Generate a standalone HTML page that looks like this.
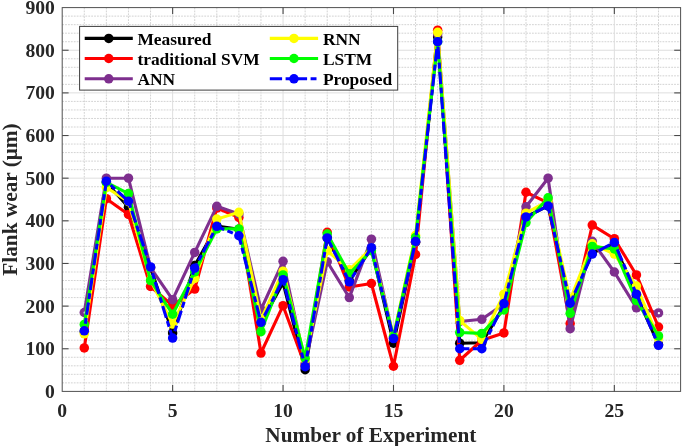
<!DOCTYPE html>
<html><head><meta charset="utf-8"><title>Flank wear</title>
<style>
html,body{margin:0;padding:0;background:#fff;}
body{width:685px;height:446px;overflow:hidden;font-family:"Liberation Serif",serif;}
svg{display:block;will-change:transform;}
text{font-family:"Liberation Serif",serif;font-weight:bold;fill:#262626;}
</style></head><body>
<svg width="685" height="446" viewBox="0 0 685 446">
<rect x="0" y="0" width="685" height="446" fill="#ffffff"/>
<g stroke="#c8c8c8" stroke-width="0.8" stroke-dasharray="1.8 1.1" fill="none">
<line x1="84.29" y1="7.60" x2="84.29" y2="391.40"/>
<line x1="106.37" y1="7.60" x2="106.37" y2="391.40"/>
<line x1="128.46" y1="7.60" x2="128.46" y2="391.40"/>
<line x1="150.54" y1="7.60" x2="150.54" y2="391.40"/>
<line x1="194.71" y1="7.60" x2="194.71" y2="391.40"/>
<line x1="216.80" y1="7.60" x2="216.80" y2="391.40"/>
<line x1="238.89" y1="7.60" x2="238.89" y2="391.40"/>
<line x1="260.97" y1="7.60" x2="260.97" y2="391.40"/>
<line x1="305.14" y1="7.60" x2="305.14" y2="391.40"/>
<line x1="327.23" y1="7.60" x2="327.23" y2="391.40"/>
<line x1="349.31" y1="7.60" x2="349.31" y2="391.40"/>
<line x1="371.40" y1="7.60" x2="371.40" y2="391.40"/>
<line x1="415.57" y1="7.60" x2="415.57" y2="391.40"/>
<line x1="437.66" y1="7.60" x2="437.66" y2="391.40"/>
<line x1="459.74" y1="7.60" x2="459.74" y2="391.40"/>
<line x1="481.83" y1="7.60" x2="481.83" y2="391.40"/>
<line x1="526.00" y1="7.60" x2="526.00" y2="391.40"/>
<line x1="548.09" y1="7.60" x2="548.09" y2="391.40"/>
<line x1="570.17" y1="7.60" x2="570.17" y2="391.40"/>
<line x1="592.26" y1="7.60" x2="592.26" y2="391.40"/>
<line x1="636.43" y1="7.60" x2="636.43" y2="391.40"/>
<line x1="658.51" y1="7.60" x2="658.51" y2="391.40"/>
<line x1="62.20" y1="382.87" x2="680.60" y2="382.87"/>
<line x1="62.20" y1="374.34" x2="680.60" y2="374.34"/>
<line x1="62.20" y1="365.81" x2="680.60" y2="365.81"/>
<line x1="62.20" y1="357.28" x2="680.60" y2="357.28"/>
<line x1="62.20" y1="340.23" x2="680.60" y2="340.23"/>
<line x1="62.20" y1="331.70" x2="680.60" y2="331.70"/>
<line x1="62.20" y1="323.17" x2="680.60" y2="323.17"/>
<line x1="62.20" y1="314.64" x2="680.60" y2="314.64"/>
<line x1="62.20" y1="297.58" x2="680.60" y2="297.58"/>
<line x1="62.20" y1="289.05" x2="680.60" y2="289.05"/>
<line x1="62.20" y1="280.52" x2="680.60" y2="280.52"/>
<line x1="62.20" y1="272.00" x2="680.60" y2="272.00"/>
<line x1="62.20" y1="254.94" x2="680.60" y2="254.94"/>
<line x1="62.20" y1="246.41" x2="680.60" y2="246.41"/>
<line x1="62.20" y1="237.88" x2="680.60" y2="237.88"/>
<line x1="62.20" y1="229.35" x2="680.60" y2="229.35"/>
<line x1="62.20" y1="212.29" x2="680.60" y2="212.29"/>
<line x1="62.20" y1="203.76" x2="680.60" y2="203.76"/>
<line x1="62.20" y1="195.24" x2="680.60" y2="195.24"/>
<line x1="62.20" y1="186.71" x2="680.60" y2="186.71"/>
<line x1="62.20" y1="169.65" x2="680.60" y2="169.65"/>
<line x1="62.20" y1="161.12" x2="680.60" y2="161.12"/>
<line x1="62.20" y1="152.59" x2="680.60" y2="152.59"/>
<line x1="62.20" y1="144.06" x2="680.60" y2="144.06"/>
<line x1="62.20" y1="127.00" x2="680.60" y2="127.00"/>
<line x1="62.20" y1="118.48" x2="680.60" y2="118.48"/>
<line x1="62.20" y1="109.95" x2="680.60" y2="109.95"/>
<line x1="62.20" y1="101.42" x2="680.60" y2="101.42"/>
<line x1="62.20" y1="84.36" x2="680.60" y2="84.36"/>
<line x1="62.20" y1="75.83" x2="680.60" y2="75.83"/>
<line x1="62.20" y1="67.30" x2="680.60" y2="67.30"/>
<line x1="62.20" y1="58.77" x2="680.60" y2="58.77"/>
<line x1="62.20" y1="41.72" x2="680.60" y2="41.72"/>
<line x1="62.20" y1="33.19" x2="680.60" y2="33.19"/>
<line x1="62.20" y1="24.66" x2="680.60" y2="24.66"/>
<line x1="62.20" y1="16.13" x2="680.60" y2="16.13"/>
</g>
<g stroke="#dedede" stroke-width="1" fill="none">
<line x1="172.63" y1="7.60" x2="172.63" y2="391.40"/>
<line x1="283.06" y1="7.60" x2="283.06" y2="391.40"/>
<line x1="393.49" y1="7.60" x2="393.49" y2="391.40"/>
<line x1="503.91" y1="7.60" x2="503.91" y2="391.40"/>
<line x1="614.34" y1="7.60" x2="614.34" y2="391.40"/>
<line x1="62.20" y1="348.76" x2="680.60" y2="348.76"/>
<line x1="62.20" y1="306.11" x2="680.60" y2="306.11"/>
<line x1="62.20" y1="263.47" x2="680.60" y2="263.47"/>
<line x1="62.20" y1="220.82" x2="680.60" y2="220.82"/>
<line x1="62.20" y1="178.18" x2="680.60" y2="178.18"/>
<line x1="62.20" y1="135.53" x2="680.60" y2="135.53"/>
<line x1="62.20" y1="92.89" x2="680.60" y2="92.89"/>
<line x1="62.20" y1="50.24" x2="680.60" y2="50.24"/>
</g>
<polyline points="84.29,331.70 106.37,182.44 128.46,207.18 150.54,267.73 172.63,332.98 194.71,265.60 216.80,225.94 238.89,229.35 260.97,323.17 283.06,282.66 305.14,369.65 327.23,237.88 349.31,280.52 371.40,248.54 393.49,343.21 415.57,242.14 437.66,37.02 459.74,343.21 481.83,342.79 503.91,306.11 526.00,216.98 548.09,205.90 570.17,303.98 592.26,252.81 614.34,244.28 636.43,295.45 658.51,344.49" fill="none" stroke="#000000" stroke-width="3.1" stroke-linejoin="round"/>
<g fill="#000000"><circle cx="84.29" cy="331.70" r="4.75"/><circle cx="106.37" cy="182.44" r="4.75"/><circle cx="128.46" cy="207.18" r="4.75"/><circle cx="150.54" cy="267.73" r="4.75"/><circle cx="172.63" cy="332.98" r="4.75"/><circle cx="194.71" cy="265.60" r="4.75"/><circle cx="216.80" cy="225.94" r="4.75"/><circle cx="238.89" cy="229.35" r="4.75"/><circle cx="260.97" cy="323.17" r="4.75"/><circle cx="283.06" cy="282.66" r="4.75"/><circle cx="305.14" cy="369.65" r="4.75"/><circle cx="327.23" cy="237.88" r="4.75"/><circle cx="349.31" cy="280.52" r="4.75"/><circle cx="371.40" cy="248.54" r="4.75"/><circle cx="393.49" cy="343.21" r="4.75"/><circle cx="415.57" cy="242.14" r="4.75"/><circle cx="437.66" cy="37.02" r="4.75"/><circle cx="459.74" cy="343.21" r="4.75"/><circle cx="481.83" cy="342.79" r="4.75"/><circle cx="503.91" cy="306.11" r="4.75"/><circle cx="526.00" cy="216.98" r="4.75"/><circle cx="548.09" cy="205.90" r="4.75"/><circle cx="570.17" cy="303.98" r="4.75"/><circle cx="592.26" cy="252.81" r="4.75"/><circle cx="614.34" cy="244.28" r="4.75"/><circle cx="636.43" cy="295.45" r="4.75"/><circle cx="658.51" cy="344.49" r="4.75"/></g>
<line x1="636.43" y1="307.82" x2="658.51" y2="312.93" stroke="#7e2f8e" stroke-width="3.1"/>
<polyline points="84.29,347.90 106.37,198.65 128.46,214.43 150.54,286.49 172.63,305.68 194.71,289.05 216.80,208.03 238.89,217.41 260.97,353.02 283.06,305.68 305.14,365.81 327.23,232.34 349.31,286.92 371.40,283.51 393.49,366.24 415.57,254.51 437.66,30.20 459.74,360.27 481.83,340.23 503.91,332.98 526.00,192.25 548.09,202.91 570.17,323.60 592.26,225.09 614.34,238.73 636.43,274.98 658.51,327.01" fill="none" stroke="#ff0000" stroke-width="3.1" stroke-linejoin="round"/>
<g fill="#ff0000"><circle cx="84.29" cy="347.90" r="4.75"/><circle cx="106.37" cy="198.65" r="4.75"/><circle cx="128.46" cy="214.43" r="4.75"/><circle cx="150.54" cy="286.49" r="4.75"/><circle cx="172.63" cy="305.68" r="4.75"/><circle cx="194.71" cy="289.05" r="4.75"/><circle cx="216.80" cy="208.03" r="4.75"/><circle cx="238.89" cy="217.41" r="4.75"/><circle cx="260.97" cy="353.02" r="4.75"/><circle cx="283.06" cy="305.68" r="4.75"/><circle cx="305.14" cy="365.81" r="4.75"/><circle cx="327.23" cy="232.34" r="4.75"/><circle cx="349.31" cy="286.92" r="4.75"/><circle cx="371.40" cy="283.51" r="4.75"/><circle cx="393.49" cy="366.24" r="4.75"/><circle cx="415.57" cy="254.51" r="4.75"/><circle cx="437.66" cy="30.20" r="4.75"/><circle cx="459.74" cy="360.27" r="4.75"/><circle cx="481.83" cy="340.23" r="4.75"/><circle cx="503.91" cy="332.98" r="4.75"/><circle cx="526.00" cy="192.25" r="4.75"/><circle cx="548.09" cy="202.91" r="4.75"/><circle cx="570.17" cy="323.60" r="4.75"/><circle cx="592.26" cy="225.09" r="4.75"/><circle cx="614.34" cy="238.73" r="4.75"/><circle cx="636.43" cy="274.98" r="4.75"/><circle cx="658.51" cy="327.01" r="4.75"/></g>
<polyline points="84.29,312.51 106.37,178.18 128.46,178.18 150.54,267.73 172.63,299.71 194.71,252.38 216.80,206.32 238.89,214.00 260.97,309.52 283.06,261.33 305.14,363.68 327.23,261.76 349.31,297.58 371.40,239.16 393.49,338.09 415.57,242.14 437.66,34.04 459.74,321.46 481.83,319.33 503.91,303.98 526.00,206.75 548.09,178.18 570.17,328.71 592.26,241.29 614.34,272.00 636.43,307.82" fill="none" stroke="#7e2f8e" stroke-width="3.1" stroke-linejoin="round"/>
<g fill="#7e2f8e"><circle cx="84.29" cy="312.51" r="4.75"/><circle cx="106.37" cy="178.18" r="4.75"/><circle cx="128.46" cy="178.18" r="4.75"/><circle cx="150.54" cy="267.73" r="4.75"/><circle cx="172.63" cy="299.71" r="4.75"/><circle cx="194.71" cy="252.38" r="4.75"/><circle cx="216.80" cy="206.32" r="4.75"/><circle cx="238.89" cy="214.00" r="4.75"/><circle cx="260.97" cy="309.52" r="4.75"/><circle cx="283.06" cy="261.33" r="4.75"/><circle cx="305.14" cy="363.68" r="4.75"/><circle cx="327.23" cy="261.76" r="4.75"/><circle cx="349.31" cy="297.58" r="4.75"/><circle cx="371.40" cy="239.16" r="4.75"/><circle cx="393.49" cy="338.09" r="4.75"/><circle cx="415.57" cy="242.14" r="4.75"/><circle cx="437.66" cy="34.04" r="4.75"/><circle cx="459.74" cy="321.46" r="4.75"/><circle cx="481.83" cy="319.33" r="4.75"/><circle cx="503.91" cy="303.98" r="4.75"/><circle cx="526.00" cy="206.75" r="4.75"/><circle cx="548.09" cy="178.18" r="4.75"/><circle cx="570.17" cy="328.71" r="4.75"/><circle cx="592.26" cy="241.29" r="4.75"/><circle cx="614.34" cy="272.00" r="4.75"/><circle cx="636.43" cy="307.82" r="4.75"/><circle cx="658.51" cy="312.93" r="4.75"/></g>
<circle cx="84.69" cy="312.71" r="1.15" fill="#ffffff"/><circle cx="658.91" cy="313.13" r="1.15" fill="#ffffff"/><polyline points="84.29,333.83 106.37,187.56 128.46,201.63 150.54,280.10 172.63,324.02 194.71,278.39 216.80,219.12 238.89,212.29 260.97,319.76 283.06,271.14 305.14,359.42 327.23,250.67 349.31,269.86 371.40,248.11 393.49,335.96 415.57,235.32 437.66,32.33 459.74,320.61 481.83,339.37 503.91,294.17 526.00,213.15 548.09,200.78 570.17,299.71 592.26,243.85 614.34,254.08 636.43,286.07 658.51,338.09" fill="none" stroke="#ffff00" stroke-width="3.1" stroke-linejoin="round"/>
<g fill="#ffff00"><circle cx="84.29" cy="333.83" r="4.75"/><circle cx="106.37" cy="187.56" r="4.75"/><circle cx="128.46" cy="201.63" r="4.75"/><circle cx="150.54" cy="280.10" r="4.75"/><circle cx="172.63" cy="324.02" r="4.75"/><circle cx="194.71" cy="278.39" r="4.75"/><circle cx="216.80" cy="219.12" r="4.75"/><circle cx="238.89" cy="212.29" r="4.75"/><circle cx="260.97" cy="319.76" r="4.75"/><circle cx="283.06" cy="271.14" r="4.75"/><circle cx="305.14" cy="359.42" r="4.75"/><circle cx="327.23" cy="250.67" r="4.75"/><circle cx="349.31" cy="269.86" r="4.75"/><circle cx="371.40" cy="248.11" r="4.75"/><circle cx="393.49" cy="335.96" r="4.75"/><circle cx="415.57" cy="235.32" r="4.75"/><circle cx="437.66" cy="32.33" r="4.75"/><circle cx="459.74" cy="320.61" r="4.75"/><circle cx="481.83" cy="339.37" r="4.75"/><circle cx="503.91" cy="294.17" r="4.75"/><circle cx="526.00" cy="213.15" r="4.75"/><circle cx="548.09" cy="200.78" r="4.75"/><circle cx="570.17" cy="299.71" r="4.75"/><circle cx="592.26" cy="243.85" r="4.75"/><circle cx="614.34" cy="254.08" r="4.75"/><circle cx="636.43" cy="286.07" r="4.75"/><circle cx="658.51" cy="338.09" r="4.75"/></g>
<polyline points="84.29,324.45 106.37,182.44 128.46,193.53 150.54,280.52 172.63,314.21 194.71,272.00 216.80,228.92 238.89,228.92 260.97,331.70 283.06,274.98 305.14,358.14 327.23,234.04 349.31,273.70 371.40,250.67 393.49,336.82 415.57,237.45 437.66,41.72 459.74,332.55 481.83,333.40 503.91,309.95 526.00,222.53 548.09,197.79 570.17,313.36 592.26,246.41 614.34,248.97 636.43,300.57 658.51,335.96" fill="none" stroke="#00ff00" stroke-width="3.1" stroke-linejoin="round"/>
<g fill="#00ff00"><circle cx="84.29" cy="324.45" r="4.75"/><circle cx="106.37" cy="182.44" r="4.75"/><circle cx="128.46" cy="193.53" r="4.75"/><circle cx="150.54" cy="280.52" r="4.75"/><circle cx="172.63" cy="314.21" r="4.75"/><circle cx="194.71" cy="272.00" r="4.75"/><circle cx="216.80" cy="228.92" r="4.75"/><circle cx="238.89" cy="228.92" r="4.75"/><circle cx="260.97" cy="331.70" r="4.75"/><circle cx="283.06" cy="274.98" r="4.75"/><circle cx="305.14" cy="358.14" r="4.75"/><circle cx="327.23" cy="234.04" r="4.75"/><circle cx="349.31" cy="273.70" r="4.75"/><circle cx="371.40" cy="250.67" r="4.75"/><circle cx="393.49" cy="336.82" r="4.75"/><circle cx="415.57" cy="237.45" r="4.75"/><circle cx="437.66" cy="41.72" r="4.75"/><circle cx="459.74" cy="332.55" r="4.75"/><circle cx="481.83" cy="333.40" r="4.75"/><circle cx="503.91" cy="309.95" r="4.75"/><circle cx="526.00" cy="222.53" r="4.75"/><circle cx="548.09" cy="197.79" r="4.75"/><circle cx="570.17" cy="313.36" r="4.75"/><circle cx="592.26" cy="246.41" r="4.75"/><circle cx="614.34" cy="248.97" r="4.75"/><circle cx="636.43" cy="300.57" r="4.75"/><circle cx="658.51" cy="335.96" r="4.75"/></g>
<polyline points="84.29,330.84 106.37,181.16 128.46,201.21 150.54,266.88 172.63,338.09 194.71,268.16 216.80,226.37 238.89,235.75 260.97,322.32 283.06,279.67 305.14,366.67 327.23,237.88 349.31,281.80 371.40,247.69 393.49,338.52 415.57,241.29 437.66,41.72 459.74,348.76 481.83,348.76 503.91,303.55 526.00,216.98 548.09,205.90 570.17,303.13 592.26,254.08 614.34,242.57 636.43,294.17 658.51,345.34" fill="none" stroke="#0000ff" stroke-width="3.1" stroke-linejoin="round" stroke-dasharray="12.3 3.5 5.9 3.3" stroke-dashoffset="8.67"/>
<g fill="#0000ff"><circle cx="84.29" cy="330.84" r="4.75"/><circle cx="106.37" cy="181.16" r="4.75"/><circle cx="128.46" cy="201.21" r="4.75"/><circle cx="150.54" cy="266.88" r="4.75"/><circle cx="172.63" cy="338.09" r="4.75"/><circle cx="194.71" cy="268.16" r="4.75"/><circle cx="216.80" cy="226.37" r="4.75"/><circle cx="238.89" cy="235.75" r="4.75"/><circle cx="260.97" cy="322.32" r="4.75"/><circle cx="283.06" cy="279.67" r="4.75"/><circle cx="305.14" cy="366.67" r="4.75"/><circle cx="327.23" cy="237.88" r="4.75"/><circle cx="349.31" cy="281.80" r="4.75"/><circle cx="371.40" cy="247.69" r="4.75"/><circle cx="393.49" cy="338.52" r="4.75"/><circle cx="415.57" cy="241.29" r="4.75"/><circle cx="437.66" cy="41.72" r="4.75"/><circle cx="459.74" cy="348.76" r="4.75"/><circle cx="481.83" cy="348.76" r="4.75"/><circle cx="503.91" cy="303.55" r="4.75"/><circle cx="526.00" cy="216.98" r="4.75"/><circle cx="548.09" cy="205.90" r="4.75"/><circle cx="570.17" cy="303.13" r="4.75"/><circle cx="592.26" cy="254.08" r="4.75"/><circle cx="614.34" cy="242.57" r="4.75"/><circle cx="636.43" cy="294.17" r="4.75"/><circle cx="658.51" cy="345.34" r="4.75"/></g>
<rect x="62.20" y="7.60" width="618.40" height="383.80" fill="none" stroke="#505050" stroke-width="1.0"/>
<g stroke="#4a4a4a" stroke-width="1.1">
<line x1="172.63" y1="391.40" x2="172.63" y2="385.00"/><line x1="172.63" y1="7.60" x2="172.63" y2="14.00"/>
<line x1="283.06" y1="391.40" x2="283.06" y2="385.00"/><line x1="283.06" y1="7.60" x2="283.06" y2="14.00"/>
<line x1="393.49" y1="391.40" x2="393.49" y2="385.00"/><line x1="393.49" y1="7.60" x2="393.49" y2="14.00"/>
<line x1="503.91" y1="391.40" x2="503.91" y2="385.00"/><line x1="503.91" y1="7.60" x2="503.91" y2="14.00"/>
<line x1="614.34" y1="391.40" x2="614.34" y2="385.00"/><line x1="614.34" y1="7.60" x2="614.34" y2="14.00"/>
<line x1="62.20" y1="348.76" x2="68.60" y2="348.76"/><line x1="680.60" y1="348.76" x2="674.20" y2="348.76"/>
<line x1="62.20" y1="306.11" x2="68.60" y2="306.11"/><line x1="680.60" y1="306.11" x2="674.20" y2="306.11"/>
<line x1="62.20" y1="263.47" x2="68.60" y2="263.47"/><line x1="680.60" y1="263.47" x2="674.20" y2="263.47"/>
<line x1="62.20" y1="220.82" x2="68.60" y2="220.82"/><line x1="680.60" y1="220.82" x2="674.20" y2="220.82"/>
<line x1="62.20" y1="178.18" x2="68.60" y2="178.18"/><line x1="680.60" y1="178.18" x2="674.20" y2="178.18"/>
<line x1="62.20" y1="135.53" x2="68.60" y2="135.53"/><line x1="680.60" y1="135.53" x2="674.20" y2="135.53"/>
<line x1="62.20" y1="92.89" x2="68.60" y2="92.89"/><line x1="680.60" y1="92.89" x2="674.20" y2="92.89"/>
<line x1="62.20" y1="50.24" x2="68.60" y2="50.24"/><line x1="680.60" y1="50.24" x2="674.20" y2="50.24"/>
</g>
<g font-size="19.6" text-anchor="end">
<text x="54.90" y="398.00">0</text>
<text x="54.90" y="355.36">100</text>
<text x="54.90" y="312.71">200</text>
<text x="54.90" y="270.07">300</text>
<text x="54.90" y="227.42">400</text>
<text x="54.90" y="184.78">500</text>
<text x="54.90" y="142.13">600</text>
<text x="54.90" y="99.49">700</text>
<text x="54.90" y="56.84">800</text>
<text x="54.90" y="14.20">900</text>
</g>
<g font-size="19.6" text-anchor="middle">
<text x="62.20" y="416.70">0</text>
<text x="172.63" y="416.70">5</text>
<text x="283.06" y="416.70">10</text>
<text x="393.49" y="416.70">15</text>
<text x="503.91" y="416.70">20</text>
<text x="614.34" y="416.70">25</text>
</g>
<text x="265.30" y="441.80" font-size="21.5" textLength="211" lengthAdjust="spacingAndGlyphs">Number of Experiment</text>
<text transform="translate(16.60,275.80) rotate(-90)" font-size="21.5" textLength="152.5" lengthAdjust="spacingAndGlyphs">Flank wear (μm)</text>
<rect x="79.60" y="26.40" width="318.10" height="63.70" fill="#ffffff" stroke="#3c3c3c" stroke-width="1.0"/>
<line x1="84.70" y1="38.40" x2="132.80" y2="38.40" stroke="#000000" stroke-width="3.1"/><circle cx="108.75" cy="38.40" r="4.75" fill="#000000"/><text x="137.40" y="44.60" font-size="17.4" style="fill:#000">Measured</text>
<line x1="84.70" y1="58.50" x2="132.80" y2="58.50" stroke="#ff0000" stroke-width="3.1"/><circle cx="108.75" cy="58.50" r="4.75" fill="#ff0000"/><text x="137.40" y="64.70" font-size="17.4" style="fill:#000">traditional SVM</text>
<line x1="84.70" y1="78.80" x2="132.80" y2="78.80" stroke="#7e2f8e" stroke-width="3.1"/><circle cx="108.75" cy="78.80" r="4.75" fill="#7e2f8e"/><text x="137.40" y="85.00" font-size="17.4" style="fill:#000">ANN</text>
<line x1="269.80" y1="38.40" x2="318.10" y2="38.40" stroke="#ffff00" stroke-width="3.1"/><circle cx="293.95" cy="38.40" r="4.75" fill="#ffff00"/><text x="322.90" y="44.60" font-size="17.4" style="fill:#000">RNN</text>
<line x1="269.80" y1="58.50" x2="318.10" y2="58.50" stroke="#00ff00" stroke-width="3.1"/><circle cx="293.95" cy="58.50" r="4.75" fill="#00ff00"/><text x="322.90" y="64.70" font-size="17.4" style="fill:#000">LSTM</text>
<line x1="269.80" y1="78.80" x2="318.10" y2="78.80" stroke="#0000ff" stroke-width="3.1" stroke-dasharray="12.3 3.5 5.9 3.3"/><circle cx="293.95" cy="78.80" r="4.75" fill="#0000ff"/><text x="322.90" y="85.00" font-size="17.4" style="fill:#000">Proposed</text>
</svg>
</body></html>
